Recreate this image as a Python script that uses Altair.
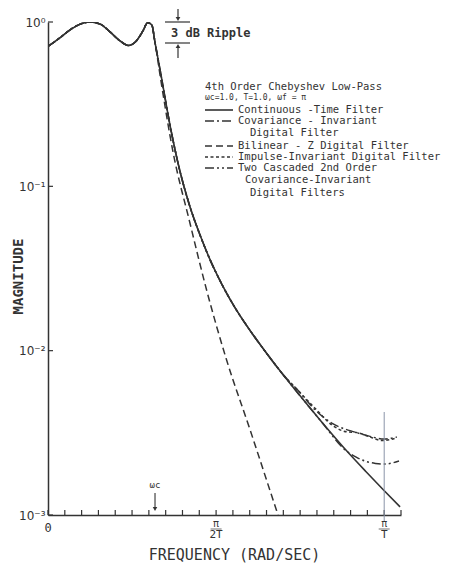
import math
import altair as alt
import pandas as pd

PI = math.pi
XMAX = 21 * PI / 20

# ---- data ----
omega_ct = [0, 0.11, 0.2, 0.3, 0.39, 0.49, 0.58, 0.67, 0.75, 0.82, 0.89, 0.93, 0.97,
            1.0, 1.06, 1.14, 1.23, 1.32, 1.42, 1.51, 1.62, 1.74, 1.88, 2.02, 2.19,
            2.35, 2.54, 2.82, 2.97, 3.14, 3.29]
mag_ct = [0.71, 0.80, 0.89, 0.97, 1.0, 0.97, 0.87, 0.77, 0.72, 0.76, 0.89, 0.99, 0.96,
          0.75, 0.46, 0.236, 0.126, 0.0776, 0.0507, 0.0363, 0.0257, 0.0186, 0.0135, 0.0101, 0.00724,
          0.00537, 0.0038, 0.00234, 0.00184, 0.00141, 0.00112]

omega_bl_tail = [1.0, 1.06, 1.165, 1.324, 1.482, 1.669, 1.883, 2.135, 2.15]
mag_bl_tail = [0.75, 0.42, 0.166, 0.0607, 0.0234, 0.00877, 0.00338, 0.00107, 0.001]

omega_cov_tail = [2.35, 2.49, 2.66, 2.88, 3.0, 3.14, 3.26]
mag_cov_tail = [0.0056, 0.0044, 0.0036, 0.00318, 0.00302, 0.0029, 0.00298]

omega_imp_tail = [2.35, 2.49, 2.66, 2.8, 2.88, 3.0, 3.12, 3.26]
mag_imp_tail = [0.0056, 0.0045, 0.0035, 0.0032, 0.00318, 0.00300, 0.00284, 0.00295]

omega_cas_tail = [2.79, 2.88, 2.97, 3.06, 3.14, 3.28]
mag_cas_tail = [0.00245, 0.00225, 0.00212, 0.00206, 0.00204, 0.00213]

x_tick_values = [k * PI / 20 for k in range(22)]
y_tick_values = [1, 0.1, 0.01, 0.001]

W, H = 353, 493
INK = "#333333"
MONO = "DejaVu Sans Mono"

xs = alt.Scale(domain=[0, XMAX], nice=False, zero=False)
ys = alt.Scale(type="log", domain=[0.001, 1], nice=False)

x_axis = alt.Axis(ticks=False, labels=False, grid=False, domainColor=INK, domainWidth=1.5,
                  title="FREQUENCY (RAD/SEC)", titleFont=MONO, titleFontSize=15,
                  titleFontWeight="normal", titleColor=INK, titleX=186, titleY=39,
                  titleBaseline="middle")
y_axis = alt.Axis(values=y_tick_values, ticks=False, grid=False, domainColor=INK, domainWidth=1.5,
                  labelExpr="datum.value >= 1 ? '10⁰' : datum.value >= 0.1 ? '10⁻¹' : datum.value >= 0.01 ? '10⁻²' : '10⁻³'",
                  labelFont="DejaVu Sans", labelFontSize=12, labelColor=INK, labelPadding=3,
                  title="MAGNITUDE", titleFont=MONO, titleFontSize=14, titleFontWeight="bold",
                  titleColor=INK, titleX=-30, titleY=254, titleBaseline="middle")

X = alt.X("omega:Q", scale=xs, axis=x_axis)
Y = alt.Y("mag:Q", scale=ys, axis=y_axis)


def curve(om, mg, dash=None, width=1.5):
    df = pd.DataFrame({"omega": om, "mag": mg})
    kw = dict(color=INK, strokeWidth=width, clip=True, interpolate="monotone")
    if dash:
        kw["strokeDash"] = dash
    return alt.Chart(df).mark_line(**kw).encode(x=X, y=Y)


DASH_COV = [9, 3, 2, 3]
DASH_BL = [7, 4]
DASH_IMP = [3, 2.5]
DASH_CAS = [9, 3, 2, 3, 2, 3]

layers = [
    curve(omega_ct, mag_ct, None, 1.6),
    curve(omega_ct[:13] + omega_bl_tail, mag_ct[:13] + mag_bl_tail, DASH_BL),
    curve(omega_ct[:25] + omega_cov_tail, mag_ct[:25] + mag_cov_tail, DASH_COV),
    curve(omega_ct[:25] + omega_imp_tail, mag_ct[:25] + mag_imp_tail, DASH_IMP),
    curve(omega_ct[:27] + omega_cas_tail, mag_ct[:27] + mag_cas_tail, DASH_CAS),
]

one = pd.DataFrame({"omega": [0.0], "mag": [1.0]})

# inward ticks on x axis
layers.append(
    alt.Chart(pd.DataFrame({"omega": x_tick_values})).mark_rule(color=INK, strokeWidth=1.2)
    .encode(x=X, y=alt.value(H - 5), y2=alt.value(H))
)
# inward ticks on y axis
layers.append(
    alt.Chart(pd.DataFrame({"mag": y_tick_values})).mark_rule(color=INK, strokeWidth=1.2)
    .encode(y=Y, x=alt.value(0), x2=alt.value(5))
)

# vertical line at pi
layers.append(
    alt.Chart(pd.DataFrame({"omega": [PI]})).mark_rule(color="#8a94a8", strokeWidth=1)
    .encode(x=X, y=alt.value(390), y2=alt.value(499))
)


def text(x, y, s, size=10.5, font=MONO, align="left", weight="normal"):
    return alt.Chart(one).mark_text(align=align, baseline="middle", font=font, fontSize=size,
                                    fontWeight=weight, color=INK, fill=INK).encode(
        x=alt.value(x), y=alt.value(y), text=alt.value(s))


def seg(x1, x2, y1, y2, dash=None, width=1.2):
    kw = dict(color=INK, strokeWidth=width)
    if dash:
        kw["strokeDash"] = dash
    return alt.Chart(one).mark_rule(**kw).encode(
        x=alt.value(x1), x2=alt.value(x2), y=alt.value(y1), y2=alt.value(y2))


def arrow(x, y, shape):
    return alt.Chart(one).mark_point(shape=shape, filled=True, size=22, color=INK, opacity=1).encode(
        x=alt.value(x), y=alt.value(y))


# x tick labels
pi_labels = pd.DataFrame({"omega": [PI / 2, PI]})
layers.append(text(0, 506, "0", 12, align="center"))
layers.append(alt.Chart(pi_labels).mark_text(font=MONO, fontSize=10, color=INK, fill=INK, baseline="middle")
              .encode(x=X, y=alt.value(502), text=alt.value("π")))
layers.append(alt.Chart(pi_labels).mark_tick(orient="horizontal", size=11, thickness=1, color=INK)
              .encode(x=X, y=alt.value(507)))
layers.append(alt.Chart(pd.DataFrame({"omega": [PI / 2]})).mark_text(font=MONO, fontSize=11, color=INK, fill=INK, baseline="middle")
              .encode(x=X, y=alt.value(513), text=alt.value("2T")))
layers.append(alt.Chart(pd.DataFrame({"omega": [PI]})).mark_text(font=MONO, fontSize=11, color=INK, fill=INK, baseline="middle")
              .encode(x=X, y=alt.value(513), text=alt.value("T")))

# omega_c marker
wc = pd.DataFrame({"omega": [1.0]})
layers.append(alt.Chart(wc).mark_text(font=MONO, fontSize=9, color=INK, fill=INK, baseline="middle")
              .encode(x=X, y=alt.value(463), text=alt.value("ωc")))
layers.append(alt.Chart(wc).mark_rule(color=INK, strokeWidth=1.1)
              .encode(x=X, y=alt.value(471), y2=alt.value(486)))
layers.append(alt.Chart(wc).mark_point(shape="triangle-down", filled=True, size=20, color=INK, opacity=1)
              .encode(x=X, y=alt.value(487)))

# 3 dB ripple annotation
layers += [
    seg(117, 142, 0, 0),
    seg(117, 142, 21, 21),
    seg(130, 130, -13, -3),
    arrow(130, -3, "triangle-down"),
    seg(130, 130, 24, 36),
    arrow(130, 24, "triangle-up"),
    text(123, 11, "3 dB Ripple", 12, weight="bold"),
]

# legend block
LX0, LX1, TX = 157, 185, 190
layers += [
    text(157, 65, "4th Order Chebyshev Low-Pass", 10.5),
    text(157, 76, "ωc=1.0,  T=1.0,  ωf = π", 8),
    seg(LX0, LX1, 88, 88, None, 1.6), text(TX, 88, "Continuous -Time Filter"),
    seg(LX0, LX1, 99, 99, DASH_COV, 1.6), text(TX, 99, "Covariance - Invariant"),
    text(202, 111, "Digital Filter"),
    seg(LX0, LX1, 124, 124, DASH_BL, 1.6), text(TX, 124, "Bilinear - Z Digital Filter"),
    seg(LX0, LX1, 135, 135, DASH_IMP, 1.6), text(TX, 135, "Impulse-Invariant Digital Filter"),
    seg(LX0, LX1, 146, 146, DASH_CAS, 1.6), text(TX, 146, "Two Cascaded 2nd Order"),
    text(197, 158, "Covariance-Invariant"),
    text(202, 171, "Digital Filters"),
]

chart = alt.layer(*layers).properties(
    width=W, height=H,
    padding={"left": 40, "top": 14, "right": 54, "bottom": 48},
    autosize=alt.AutoSizeParams(type="none"),
    background="white",
).configure_view(stroke=None)

chart.save("out.html", embed_options={"renderer": "svg", "actions": False})
